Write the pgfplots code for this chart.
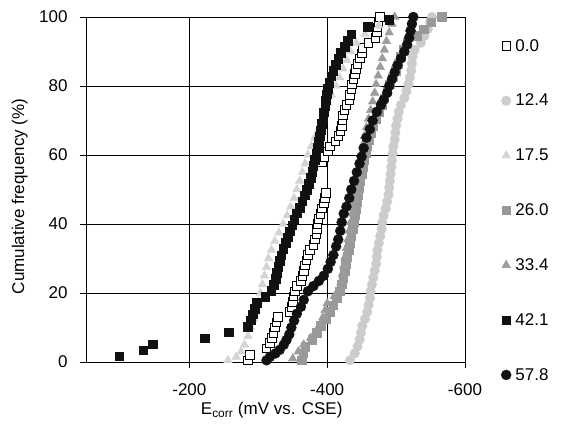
\documentclass[border=0pt]{standalone}
\usepackage{fontspec}
\setmainfont{Liberation Sans}
\usepackage{pgfplots}
\pgfplotsset{compat=1.18}
\definecolor{lg}{HTML}{CCCCCC}
\definecolor{lt}{HTML}{D4D4D4}
\definecolor{mg}{HTML}{999999}
\definecolor{mt}{HTML}{9C9C9C}
\definecolor{dk}{HTML}{111111}
\begin{document}
\begin{tikzpicture}[font=\fontsize{17}{20}\selectfont]
\begin{axis}[
  scale only axis, width=379pt, height=345pt,
  x dir=reverse, xmin=-600, xmax=-50, ymin=0, ymax=100,
  xtick={-600,-400,-200}, xticklabels={-600,-400,-200},
  ytick={0,20,40,60,80,100},
  xtick pos=left, ytick pos=left, tick align=outside,
  major tick length=6pt,
  grid=major, major grid style={black, line width=0.6pt},
  axis line style={black, line width=0.8pt},
  every tick/.style={black, line width=0.6pt},
  /pgf/number format/assume math mode=true,
  xticklabel style={yshift=-12pt},
  yticklabel style={xshift=-9pt},
  xlabel={E\textsubscript{corr} (mV vs. CSE)},
  ylabel={Cumulative frequency (\%)},
  xlabel style={at={(axis description cs:0.49,-0.14)}, anchor=center},
  ylabel style={at={(axis description cs:-0.175,0.48)}, anchor=center},
  clip=false,
  legend image code/.code={\path (0pt,0pt) (11pt,0pt); \draw[mark repeat=2,mark phase=2,#1] plot coordinates {(0pt,0pt)(4pt,0pt)(8pt,0pt)};},
  legend style={draw=none, fill=none, at={(1,1)}, anchor=north west, xshift=33pt, yshift=-18pt, row sep=37.5pt},
  legend cell align=left,
]
\coordinate (sw) at (rel axis cs:0,0);
% 0.0 open squares
\addplot[only marks, mark=square*, mark size=4.3pt, mark options={draw=black, fill=white, line width=0.7pt}] table {
-285 0.5
-288 2
-312 4
-317 5.5
-320 7
-322 8.5
-324 10
-326 11.5
-328 13
-346 14.5
-349 16
-350 17.5
-351 19
-353 20.5
-356 22
-362 23.5
-364 25
-366 26.5
-368 28
-370 29.5
-372 31
-375 32.5
-380 34
-382 35.5
-384 37
-385 38.5
-386 40
-387 41.5
-390 43
-392 44.5
-395 46
-397 47.5
-398 49
-392 58
-396 59.5
-401 61
-404 62.5
-412 64
-416 65.5
-419 67
-421 68.5
-422 70
-423 71.5
-425 73
-428 74.5
-432 76
-433 77.5
-435 79
-436 80.5
-438 82
-440 83.5
-442 85
-444 86.5
-447 88
-450 89.5
-451 91
-460 92.5
-470 94
-472 95.5
-473 97
-474 98.5
-476 100
};
\addlegendentry{0.0}
% 12.4 light circles
\addplot[only marks, mark=*, mark size=4.8pt, mark options={draw=lg, fill=lg}] table {
-433 0.5
-440 2.5
-444 4.5
-447 6.5
-449 8.5
-451 10.5
-455 12.5
-458 14.5
-460 16.5
-462 18.5
-463 20.5
-465 22.5
-467 24.5
-469 26.5
-471 28.5
-472 30.5
-473 32.5
-475 34.5
-477 36.5
-479 38.5
-480 40.5
-482 42.5
-485 44.5
-487 46.5
-489 48.5
-490 50.5
-491 52.5
-492 54.5
-493 56.5
-494 58.5
-495 60.5
-496 62.5
-498 64.5
-499 66.5
-500 68.5
-502 70.5
-504 72.5
-507 74.5
-512 76.5
-515 78.5
-518 80.5
-520 82.5
-522 84.5
-523 86.5
-524 88.5
-527 90.5
-536 92.5
-541 94.5
-546 96.5
-549 98.5
-552 100
};
\addlegendentry{12.4}
% 17.5 light triangles
\addplot[only marks, mark=triangle*, mark size=5pt, mark options={draw=lt, fill=lt}] table {
-256 0.5
-268 1.5
-275 3
-280 5
-285 7.5
-289 10
-293 12.5
-297 15
-300 17.5
-303 20
-306 22.5
-309 25
-312 27.5
-315 30
-319 32.5
-324 35
-330 37.5
-336 40
-342 42.5
-347 45
-352 47.5
-356 50
-360 52.5
-364 55
-368 57.5
-372 60
-377 62.5
-382 65
-388 67.5
-393 70
-397 72.5
-401 75
-406 77.5
-413 80
-418 82.5
-423 85
-428 87.5
-434 90
-442 92.5
-455 95
-475 97.5
-498 100
};
\addlegendentry{17.5}
% 26.0 gray squares
\addplot[only marks, mark=square*, mark size=4.3pt, mark options={draw=mg, fill=mg}] table {
-363 0.5
-365 2.5
-368 4.5
-378 6.5
-385 8.5
-391 10.5
-398 12.5
-404 14.5
-409 16.5
-414 18.5
-418 20.5
-421 22.5
-423 24.5
-425 26.5
-427 28.5
-429 30.5
-431 32.5
-433 34.5
-435 36.5
-437 38.5
-439 40.5
-440 42.5
-441 44.5
-443 46.5
-444 48.5
-446 50.5
-448 52.5
-450 54.5
-452 56.5
-454 58.5
-456 60.5
-458 62.5
-461 64.5
-464 66.5
-467 68.5
-471 70.5
-475 72.5
-479 74.5
-483 76.5
-487 78.5
-491 80.5
-495 82.5
-499 84.5
-503 86.5
-507 88.5
-511 90.5
-516 92.5
-530 94.5
-540 96.5
-551 98.5
-566 100
};
\addlegendentry{26.0}
% 33.4 gray triangles
\addplot[only marks, mark=triangle*, mark size=5pt, mark options={draw=mt, fill=mt}] table {
-350 1
-358 3
-366 5
-376 7
-384 9
-390 11
-394 13
-397 15
-400 17
-410 19
-418 21
-420 23
-422 25.5
-424 28
-426 30.5
-428 33
-430 35.5
-432 38
-434 40.5
-436 43
-438 45.5
-440 48
-442 50.5
-444 53
-446 55.5
-448 58
-450 60.5
-452 63
-454 65.5
-457 68
-460 70.5
-463 73
-466 75.5
-469 78
-471 80.5
-474 83
-477 85.5
-480 88
-483 90.5
-486 93
-490 95.5
-494 98
-498 100
};
\addlegendentry{33.4}
% 42.1 black squares
\addplot[only marks, mark=square*, mark size=4.3pt, mark options={draw=dk, fill=dk}] table {
-98 1.7
-133 3.4
-147 5.2
-222 6.9
-257 8.6
-285 10.3
-289 12.1
-292 13.8
-295 15.5
-298 17.2
-310 19
-319 20.7
-322 22.4
-325 24.1
-327 25.9
-329 27.6
-331 29.3
-333 31
-336 32.8
-340 34.5
-343 36.2
-346 37.9
-349 39.7
-352 41.4
-356 43.1
-360 44.8
-364 46.6
-367 48.3
-370 50
-373 51.7
-376 53.4
-378 55.2
-380 56.9
-382 58.6
-384 60.3
-386 62.1
-388 63.8
-389 65.5
-391 67.2
-392 69
-394 70.7
-395 72.4
-397 74.1
-398 75.9
-399 77.6
-401 79.3
-403 81
-406 82.8
-409 84.5
-412 86.2
-416 87.9
-420 89.7
-425 91.4
-430 93.1
-435 95
-459 97.2
-490 99.2
};
\addlegendentry{42.1}
% 57.8 black circles
\addplot[only marks, mark=*, mark size=5pt, mark options={draw=dk, fill=dk}] table {
-312 0.5
-317 1.5
-325 2.5
-331 3.5
-337 5
-341 6.4
-345 8
-348 10
-352 12
-356 14
-362 16
-366 18
-372 20.5
-380 22
-388 23.5
-395 25
-401 27
-405 29
-409 31
-413 33.5
-416 35.5
-419 38
-421 40.5
-424 43
-428 45
-432 47.5
-435 50
-439 52.5
-443 55
-447 57.5
-450 59.5
-453 62
-457 65
-462 67.5
-466 70
-472 72.5
-478 74.5
-482 76
-487 78
-490 80
-494 82
-498 84
-502 86
-507 88
-512 90
-516 92
-519 94
-521 96
-523 98
-525 100
};
\addlegendentry{57.8}
\end{axis}
\path (sw) ++(-86pt,-73pt) rectangle ++(572pt,435pt);
\end{tikzpicture}
\end{document}
